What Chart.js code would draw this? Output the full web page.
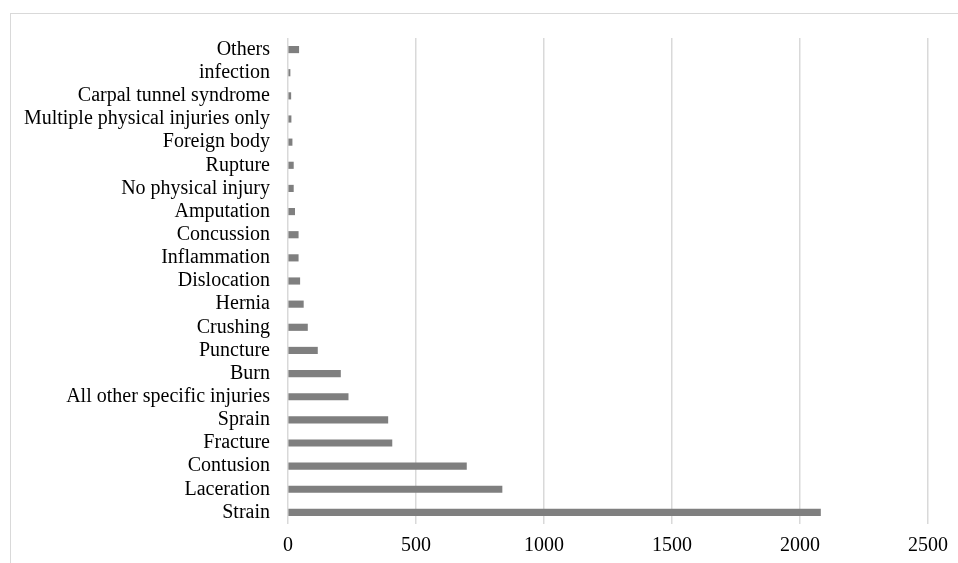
<!DOCTYPE html>
<html>
<head>
<meta charset="utf-8">
<script src="https://cdn.jsdelivr.net/npm/chart.js@4.4.1/dist/chart.umd.min.js"></script>
<style>
html,body{margin:0;padding:0;background:#fff;}
#wrap{position:relative;width:958px;height:563px;overflow:hidden;}
#frame{position:absolute;left:10px;top:13px;width:1000px;height:600px;border:1px solid #d9d9d9;box-sizing:border-box;}
canvas{position:absolute;left:0;top:0;}
</style>
</head>
<body>
<div id="wrap">
<div id="frame"></div>
<canvas id="c" width="958" height="563"></canvas>
</div>
<script>
const categories = ["Others","infection","Carpal tunnel syndrome","Multiple physical injuries only","Foreign body","Rupture","No physical injury","Amputation","Concussion","Inflammation","Dislocation","Hernia","Crushing","Puncture","Burn","All other specific injuries","Sprain","Fracture","Contusion","Laceration","Strain"];
const counts = [42,8,11,12,16,21,21,26,40,40,46,60,76,115,205,235,390,406,697,836,2080];
const xTicks = [0,500,1000,1500,2000,2500];

const FONT = "'Liberation Serif','Times New Roman',serif";
new Chart(document.getElementById('c'), {
  type: 'bar',
  data: {
    labels: categories,
    datasets: [{
      data: counts,
      backgroundColor: '#7f7f7f',
      borderWidth: 0,
      barThickness: 6.5
    }]
  },
  options: {
    indexAxis: 'y',
    responsive: false,
    animation: false,
    plugins: { legend: { display: false }, tooltip: { enabled: false } },
    layout: { padding: { top: 38, right: 28, bottom: 0, left: 0 } },
    scales: {
      x: {
        min: xTicks[0],
        max: xTicks[xTicks.length - 1],
        afterBuildTicks: s => { s.ticks = xTicks.map(v => ({ value: v })); },
        afterFit: s => { s.height = 39; },
        grid: { color: '#d9d9d9', lineWidth: 1.5, drawTicks: false },
        border: { display: false },
        ticks: { padding: 10, color: '#000', font: { family: FONT, size: 20 }, callback: v => String(v) }
      },
      y: {
        afterFit: s => { s.width = 288; },
        grid: { display: false, drawTicks: false },
        border: { display: false },
        ticks: { padding: 18, color: '#000', font: { family: FONT, size: 20 }, autoSkip: false }
      }
    }
  }
});
</script>
</body>
</html>
